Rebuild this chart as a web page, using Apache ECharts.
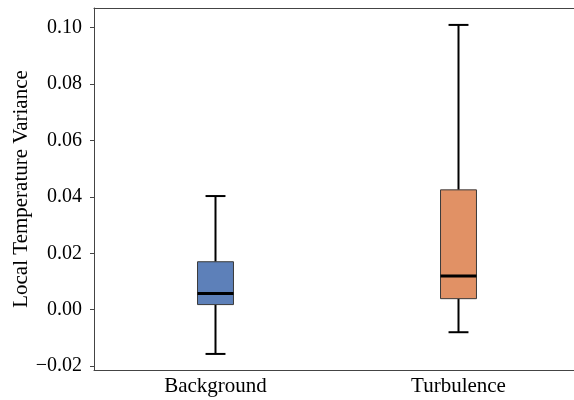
<!DOCTYPE html>
<html>
<head>
<meta charset="utf-8">
<script src="https://cdn.jsdelivr.net/npm/echarts@6/dist/echarts.min.js"></script>
<style>
  html, body { margin: 0; padding: 0; background: #fff; overflow: hidden; }
  #chart { width: 574px; height: 400px; }
</style>
</head>
<body>
<div id="chart"></div>
<script>
// data
const categories = ['Background', 'Turbulence']
const lowWhisker = [-0.0157, -0.0080]
const q1 = [0.0018, 0.0039]
const median = [0.0057, 0.0119]
const q3 = [0.0170, 0.0425]
const highWhisker = [0.0403, 0.1010]
const yTicks = [-0.02, 0, 0.02, 0.04, 0.06, 0.08, 0.10]
const boxColors = ['#5d80b9', '#e19165']

const font = 'Liberation Serif'

let boxData = categories.map((c, i) => {
  return [i, lowWhisker[i], q1[i], median[i], q3[i], highWhisker[i]]
})

function renderBox(params, api) {
  let idx = api.value(0)
  let band = api.size([1, 0])[0]
  let boxW = band * 0.148
  let capW = band * 0.082
  let low = api.coord([idx, api.value(1)])
  let pq1 = api.coord([idx, api.value(2)])
  let pmed = api.coord([idx, api.value(3)])
  let pq3 = api.coord([idx, api.value(4)])
  let high = api.coord([idx, api.value(5)])
  let x = low[0]
  let lineStyle = { stroke: '#000', lineWidth: 2 }
  return {
    type: 'group',
    children: [
      { type: 'line', shape: { x1: x, y1: pq3[1], x2: x, y2: high[1] }, style: lineStyle },
      { type: 'line', shape: { x1: x, y1: low[1], x2: x, y2: pq1[1] }, style: lineStyle },
      { type: 'line', shape: { x1: x - capW / 2, y1: high[1], x2: x + capW / 2, y2: high[1] }, style: lineStyle },
      { type: 'line', shape: { x1: x - capW / 2, y1: low[1], x2: x + capW / 2, y2: low[1] }, style: lineStyle },
      {
        type: 'rect',
        shape: { x: x - boxW / 2, y: pq3[1], width: boxW, height: pq1[1] - pq3[1] },
        style: { fill: boxColors[idx], stroke: '#3a3a3a', lineWidth: 1 }
      },
      { type: 'line', shape: { x1: x - boxW / 2, y1: pmed[1], x2: x + boxW / 2, y2: pmed[1] }, style: { stroke: '#000', lineWidth: 3 } }
    ]
  }
}

let chart = echarts.init(document.getElementById('chart'), null, { renderer: 'canvas' })
chart.setOption({
  animation: false,
  backgroundColor: '#fff',
  grid: {
    left: 94, top: 8, width: 486, height: 362,
    outerBoundsMode: 'none',
    containLabel: false,
    show: false
  },
  xAxis: [{
    type: 'category',
    data: categories,
    boundaryGap: true,
    axisLine: { onZero: false, lineStyle: { color: '#444', width: 1 } },
    axisTick: { alignWithLabel: true, length: 4, lineStyle: { color: '#444' } },
    axisLabel: { color: '#000', fontFamily: font, fontSize: 21, margin: 6 }
  }, {
    // top spine only
    type: 'category',
    data: categories,
    position: 'top',
    axisLine: { onZero: false, lineStyle: { color: '#444', width: 1 } },
    axisTick: { show: false },
    axisLabel: { show: false }
  }],
  yAxis: {
    type: 'value',
    min: -0.0214,
    max: 0.107,
    name: 'Local Temperature Variance',
    nameLocation: 'middle',
    nameGap: 62,
    nameMoveOverlap: false,
    nameTextStyle: { color: '#000', fontFamily: font, fontSize: 21 },
    splitLine: { show: false },
    axisLine: { show: true, lineStyle: { color: '#444', width: 1 } },
    axisTick: { show: true, length: 4, customValues: yTicks, lineStyle: { color: '#444' } },
    axisLabel: {
      color: '#000', fontFamily: font, fontSize: 20, margin: 12,
      customValues: yTicks,
      formatter: v => v.toFixed(2).replace('-', '\u2212')
    }
  },
  series: [{
    type: 'custom',
    renderItem: renderBox,
    encode: { x: 0, y: [1, 2, 3, 4, 5] },
    data: boxData
  }]
})
</script>
</body>
</html>
